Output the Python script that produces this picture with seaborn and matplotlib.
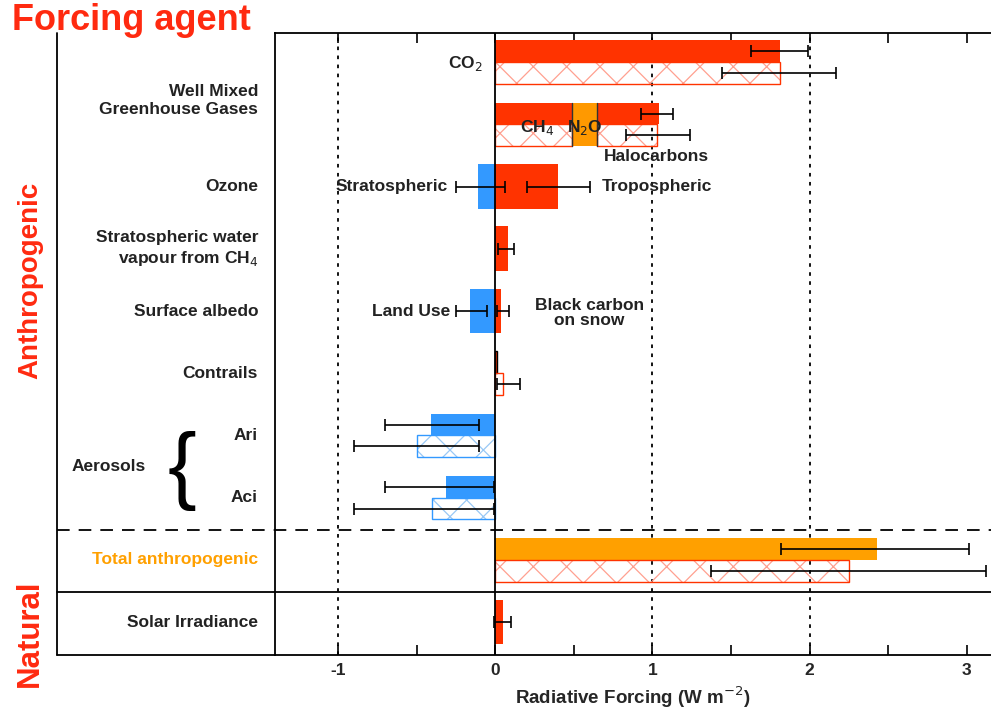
import numpy as np
import matplotlib
matplotlib.use("Agg")
import matplotlib.pyplot as plt
import matplotlib.transforms as mtransforms
import seaborn as sns

# ---------------- data ----------------
row_labels = ["Well Mixed\nGreenhouse Gases", "Ozone",
              "Stratospheric water\nvapour from CH$_4$", "Surface albedo",
              "Contrails", "Ari", "Aci", "Total anthropogenic", "Solar Irradiance"]
label_rows = [0.61, 2, 3, 4, 5, 6, 7, 8, 9]

# rows drawn as a solid (RF) bar above a hatched (ERF) bar
split_names = ["CO2", "Contrails", "Ari", "Aci", "Total anthropogenic"]
split_rows = [0, 5, 6, 7, 8]
split_rf = [1.81, 0.01, -0.41, -0.31, 2.43]
split_erf = [1.81, 0.05, -0.50, -0.40, 2.25]
split_rf_lo = [1.63, np.nan, -0.70, -0.70, 1.82]
split_rf_hi = [1.99, np.nan, -0.10, -0.01, 3.01]
split_erf_lo = [1.44, 0.01, -0.90, -0.90, 1.37]
split_erf_hi = [2.17, 0.16, -0.10, -0.01, 3.12]

# other well mixed greenhouse gases (stacked)
wmghg_parts = ["CH$_4$", "N$_2$O", "Halocarbons"]
wmghg_row = 1
wmghg_rf = [0.49, 0.16, 0.39]
wmghg_erf = [0.49, 0.16, 0.38]
wmghg_rf_lo, wmghg_rf_hi = 0.93, 1.13
wmghg_erf_lo, wmghg_erf_hi = 0.83, 1.24

# single full-height bars
single_names = ["Stratospheric", "Tropospheric", "Strat. water vapour",
                "Land Use", "Black carbon on snow", "Solar"]
single_rows = [2, 2, 3, 4, 4, 9]
single_vals = [-0.11, 0.40, 0.08, -0.16, 0.04, 0.05]
single_lo = [-0.25, 0.20, 0.02, -0.25, 0.01, -0.01]
single_hi = [0.06, 0.60, 0.12, -0.05, 0.09, 0.10]

x_ticks = [-1, 0, 1, 2, 3]

# ---------------- style ----------------
sns.set_theme(style="ticks")
plt.rcParams["font.family"] = ["Liberation Sans", "DejaVu Sans"]
plt.rcParams["hatch.linewidth"] = 0.9
plt.rcParams["axes.unicode_minus"] = False

RED = "#ff3300"
RED_H = "#ffa090"
BLUE = "#3399ff"
BLUE_H = "#99c8f5"
ORANGE = "#ffa000"
N2O_C = "#ff9900"

fig = plt.figure(figsize=(9.91, 7.09), dpi=100)
W, H = 991, 709
ax = fig.add_axes([275 / W, 1 - 655 / H, (W - 275) / W, (655 - 33) / H])
ax.set_xlim(-1.40, 3.153)
ax.set_ylim(9.53, -0.47)

hh = 0.35      # half-row bar height
full_h = 0.72  # single bar height


def colours(v, total=False):
    if total:
        return ORANGE, RED_H, RED
    if v < 0:
        return BLUE, BLUE_H, BLUE
    return RED, RED_H, RED


def hatched(y, left, width, hcol, ecol):
    ax.barh(y, width, left=left, height=hh, facecolor="none", edgecolor=hcol,
            hatch="x", linewidth=0, zorder=2)
    ax.barh(y, width, left=left, height=hh, facecolor="none", edgecolor=ecol,
            linewidth=1.0, zorder=2.5)


def ebar(lo, hi, y):
    ax.errorbar((lo + hi) / 2, y, xerr=(hi - lo) / 2, fmt="none",
                ecolor="black", elinewidth=1.2, capsize=4, capthick=1.2, zorder=4)


# grid lines
for xv in x_ticks:
    if xv == 0:
        ax.axvline(0, color="black", lw=1.3, zorder=3)
    elif xv != 3:
        ax.axvline(xv, color="black", lw=1.3, ls=(0, (2, 3)), zorder=1)

# split rows
for i, (r, rf, erf) in enumerate(zip(split_rows, split_rf, split_erf)):
    total = split_names[i] == "Total anthropogenic"
    solid_c, hatch_c, edge_c = colours(rf, total)
    ec = "black" if split_names[i] == "Contrails" else "none"
    ax.barh(r - hh / 2, rf, height=hh, color=solid_c, edgecolor=ec,
            linewidth=1.0, zorder=2)
    hatched(r + hh / 2, 0, erf, hatch_c, edge_c)
    if not np.isnan(split_rf_lo[i]):
        ebar(split_rf_lo[i], split_rf_hi[i], r - hh / 2)
    ebar(split_erf_lo[i], split_erf_hi[i], r + hh / 2)

# WMGHG stacked
left_rf = 0.0
left_erf = 0.0
for name, vr, ve in zip(wmghg_parts, wmghg_rf, wmghg_erf):
    c = N2O_C if name.startswith("N") else RED
    ax.barh(wmghg_row - hh / 2, vr, left=left_rf, height=hh, color=c,
            linewidth=0, zorder=2)
    if name.startswith("N"):
        ax.barh(wmghg_row + hh / 2, ve, left=left_erf, height=hh, color=c,
                linewidth=0, zorder=2)
    else:
        hatched(wmghg_row + hh / 2, left_erf, ve, RED_H, RED)
    left_rf += vr
    left_erf += ve
    if name != wmghg_parts[-1]:
        ax.plot([left_rf, left_rf], [wmghg_row - hh, wmghg_row + hh],
                color="#333333", lw=1.0, zorder=3)
ebar(wmghg_rf_lo, wmghg_rf_hi, wmghg_row - hh / 2)
ebar(wmghg_erf_lo, wmghg_erf_hi, wmghg_row + hh / 2)

# single rows
for r, v, lo, hi in zip(single_rows, single_vals, single_lo, single_hi):
    c = BLUE if v < 0 else RED
    ax.barh(r, v, height=full_h, color=c, linewidth=0, zorder=2)
    ebar(lo, hi, r)

# separators
xl = (57 - 275) / (W - 275)
ax.plot([xl, 1], [7.52, 7.52], transform=ax.get_yaxis_transform(), color="black",
        lw=1.3, ls=(0, (7, 5)), clip_on=False, zorder=5)
ax.plot([xl, 1], [8.52, 8.52], transform=ax.get_yaxis_transform(), color="black",
        lw=1.3, clip_on=False, zorder=5)
ax.plot([xl, xl], [0, 1], transform=ax.transAxes, color="black", lw=1.3, clip_on=False)
ax.plot([xl, 0], [0, 0], transform=ax.transAxes, color="black", lw=1.3, clip_on=False)

# axes styling
for s in ["left", "top", "bottom"]:
    ax.spines[s].set_linewidth(1.3)
    ax.spines[s].set_color("black")
ax.spines["right"].set_visible(False)
ax.set_yticks([])
ax.set_xticks(x_ticks)
ax.set_xticks(np.arange(-1.0, 3.01, 0.5), minor=True)
ax.tick_params(axis="x", which="both", direction="in", top=True, bottom=True,
               length=7, width=1.2, color="black")
ax.tick_params(axis="x", which="major", labelsize=12.5, pad=6)
for t in ax.get_xticklabels():
    t.set_fontweight("bold")
ax.set_xlabel("Radiative Forcing (W m$^{-2}$)", fontsize=13.5, fontweight="bold")
ax.xaxis.set_label_coords(0.5, -0.047)

# in-plot annotations
tk = dict(fontsize=12.5, fontweight="bold", color="#222222", zorder=6)
ax.text(-0.08, 0.02, "CO$_2$", ha="right", va="center", **tk)
ax.text(0.27, 1.05, wmghg_parts[0], ha="center", va="center", **tk)
ax.text(0.57, 1.05, wmghg_parts[1], ha="center", va="center", **tk)
ax.text(0.69, 1.52, wmghg_parts[2], ha="left", va="center", **tk)
ax.text(-0.30, 2.0, single_names[0], ha="right", va="center", **tk)
ax.text(0.68, 2.0, single_names[1], ha="left", va="center", **tk)
ax.text(-0.285, 4.0, single_names[3], ha="right", va="center", **tk)
ax.text(0.60, 4.03, "Black carbon\non snow", ha="center", va="center",
        linespacing=1.0, **tk)

# left panel labels
trans = mtransforms.blended_transform_factory(ax.transAxes, ax.transData)
xr = (258 - 275) / (W - 275)
for lab, r in zip(row_labels, label_rows):
    col = ORANGE if lab.startswith("Total") else "#222222"
    ax.text(xr, r, lab, transform=trans, ha="right", va="center", fontsize=12.5,
            fontweight="bold", color=col, linespacing=1.25, clip_on=False)
ax.text((146 - 275) / (W - 275), 6.5, "Aerosols", transform=trans, ha="right",
        va="center", fontsize=12.5, fontweight="bold", color="#222222")
ax.text((182 - 275) / (W - 275), 6.57, "{", transform=trans, ha="center",
        va="center", fontsize=62, color="black")

fig.text(12 / W, 1 - 21 / H, "Forcing agent", ha="left", va="center",
         fontsize=26, fontweight="bold", color="#ff2a10")
fig.text(30 / W, 1 - 280 / H, "Anthropogenic", ha="center", va="center",
         rotation=90, fontsize=20, fontweight="bold", color="#ff2a10")
fig.text(30 / W, 1 - 633 / H, "Natural", ha="center", va="center",
         rotation=90, fontsize=22.5, fontweight="bold", color="#ff2a10")

fig.savefig("out.png", dpi=100)
